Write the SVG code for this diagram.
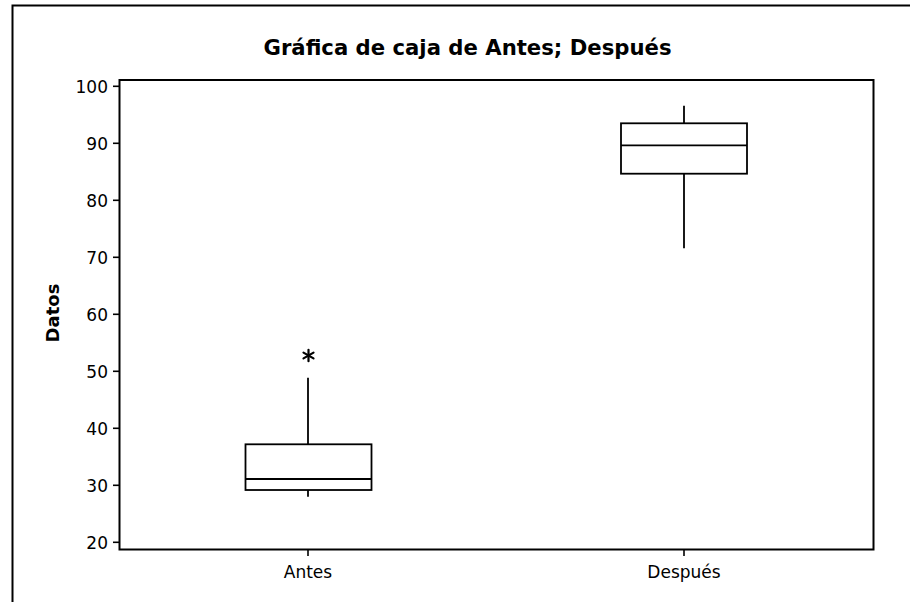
<svg xmlns="http://www.w3.org/2000/svg" width="910" height="602" viewBox="0 0 910 602">
<style>
.ln{stroke:#000;fill:none;stroke-width:2;stroke-linecap:square}
.bx{stroke:#000;fill:#fff;stroke-width:1.8}
.tk{stroke:#000;stroke-width:1.6}
.lbl{font-family:"DejaVu Sans","Liberation Sans",sans-serif;font-size:17px;fill:#000}
.bold{font-weight:bold}
.ttl{font-size:21px}
.ylab{font-size:18px}
</style>
<rect width="910" height="602" fill="#fff"/>
<g id="frame">
<path class="ln" d="M12.5,602 V5.5 H910"/>
</g>
<text id="title" class="lbl bold ttl" x="467.5" y="55" text-anchor="middle" textLength="408" lengthAdjust="spacingAndGlyphs">Gráfica de caja de Antes; Después</text>
<g id="plot-area">
<rect class="ln" x="119.5" y="80" width="754" height="469.5"/>
</g>
<g id="y-axis">
<g class="tk">
<line x1="113" y1="86.3" x2="119.5" y2="86.3"/>
<line x1="113" y1="143.3" x2="119.5" y2="143.3"/>
<line x1="113" y1="200.3" x2="119.5" y2="200.3"/>
<line x1="113" y1="257.3" x2="119.5" y2="257.3"/>
<line x1="113" y1="314.3" x2="119.5" y2="314.3"/>
<line x1="113" y1="371.3" x2="119.5" y2="371.3"/>
<line x1="113" y1="428.3" x2="119.5" y2="428.3"/>
<line x1="113" y1="485.3" x2="119.5" y2="485.3"/>
<line x1="113" y1="542.3" x2="119.5" y2="542.3"/>
</g>
<g class="lbl" text-anchor="end">
<text x="108" y="92.5">100</text>
<text x="108" y="149.5">90</text>
<text x="108" y="206.5">80</text>
<text x="108" y="263.5">70</text>
<text x="108" y="320.5">60</text>
<text x="108" y="377.5">50</text>
<text x="108" y="434.5">40</text>
<text x="108" y="491.5">30</text>
<text x="108" y="548.5">20</text>
</g>
<text class="lbl bold ylab" transform="translate(58.5,313) rotate(-90)" text-anchor="middle">Datos</text>
</g>
<g id="x-axis">
<g class="tk">
<line x1="308" y1="549.5" x2="308" y2="556"/>
<line x1="684" y1="549.5" x2="684" y2="556"/>
</g>
<text class="lbl" x="308" y="578" text-anchor="middle">Antes</text>
<text class="lbl" x="684" y="578" text-anchor="middle">Después</text>
</g>
<g id="connectors">
<line class="tk" x1="308" y1="444.3" x2="308" y2="377.7" style="stroke-width:1.8"/>
<line class="tk" x1="308" y1="490" x2="308" y2="496.7" style="stroke-width:1.8"/>
<line class="tk" x1="684" y1="123.3" x2="684" y2="105.7" style="stroke-width:1.8"/>
<line class="tk" x1="684" y1="173.7" x2="684" y2="248.3" style="stroke-width:1.8"/>
</g>
<g id="box-antes">
<rect class="bx" x="245.5" y="444.3" width="126" height="45.7"/>
<line class="tk" x1="245.5" y1="479" x2="371.5" y2="479" style="stroke-width:1.8"/>
</g>
<g id="box-despues">
<rect class="bx" x="621" y="123.3" width="126" height="50.4"/>
<line class="tk" x1="621" y1="145.3" x2="747" y2="145.3" style="stroke-width:1.8"/>
</g>
<g id="outlier-antes" stroke="#000" stroke-width="2.2" stroke-linecap="round">
<line x1="308.5" y1="349.8" x2="308.5" y2="361.2"/>
<line x1="303.5" y1="352.6" x2="313.5" y2="358.4"/>
<line x1="303.5" y1="358.4" x2="313.5" y2="352.6"/>
</g>
</svg>
